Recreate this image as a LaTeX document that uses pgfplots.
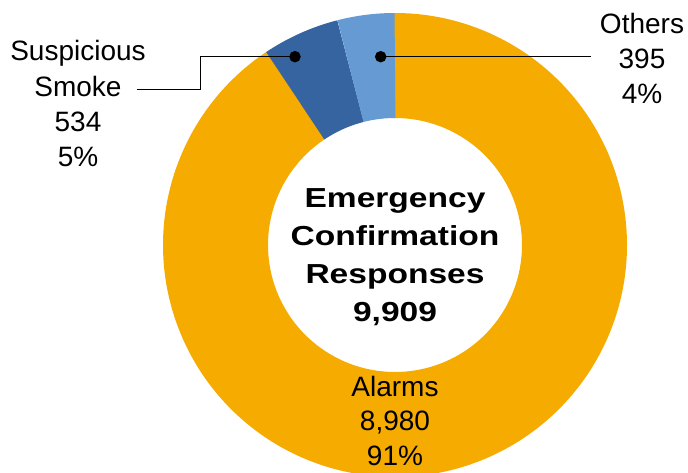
\documentclass[border=0pt]{standalone}
\usepackage{pgfplots}
\pgfplotsset{compat=1.18}
\usepackage{pgfplotstable}
\usepackage{fontspec}
\setmainfont{Liberation Sans}
\definecolor{alarmc}{HTML}{F5AB00}
\definecolor{smokec}{HTML}{3564A0}
\definecolor{otherc}{HTML}{669AD2}

\pgfplotstableread{
label value
Alarms 8980
Smoke 534
Others 395
}\datatable
\pgfplotstablegetelem{0}{value}\of\datatable \let\va\pgfplotsretval
\pgfplotstablegetelem{1}{value}\of\datatable \let\vb\pgfplotsretval
\pgfplotstablegetelem{2}{value}\of\datatable \let\vc\pgfplotsretval
\pgfmathsetmacro\tot{\va+\vb+\vc}
\pgfmathsetmacro\fa{\va/\tot}
\pgfmathsetmacro\fb{\vb/\tot}
\pgfmathsetmacro\fc{\vc/\tot}
\pgfmathsetmacro\aA{90-360*\fa}
\pgfmathsetmacro\aB{\aA-360*\fb}
\pgfmathsetmacro\aC{\aB-360*\fc}
% slight overlap under the blue slices to avoid antialiasing seams
\pgfmathsetmacro\aAlo{\aA-0.4}
\pgfmathsetmacro\aAhi{90.4}

\begin{document}%
\begin{tikzpicture}
\useasboundingbox (0,0) rectangle (688pt,472pt);
\begin{axis}[
  at={(0,0)}, anchor=south west,
  scale only axis, width=688pt, height=472pt,
  xmin=-395, xmax=293, ymin=-227, ymax=245,
  hide axis,
]
% ring segments (outer radius 232, inner radius 127)
\addplot[draw=alarmc, line width=105pt, line cap=butt, domain=\aAlo:\aAhi, samples=240, variable=\t] ({179.5*cos(t)},{179.5*sin(t)});
\addplot[draw=smokec, line width=105pt, line cap=butt, domain=\aB:\aA, samples=30, variable=\t] ({179.5*cos(t)},{179.5*sin(t)});
\addplot[draw=otherc, line width=105pt, line cap=butt, domain=\aC:\aB, samples=30, variable=\t] ({179.5*cos(t)},{179.5*sin(t)});
% leader lines
\addplot[black, line width=1.4pt, mark=*, mark size=5pt, mark indices={1}] coordinates {(-14.3,188.3) (195.7,188.3)};
\addplot[black, line width=1.4pt, mark=*, mark size=5pt, mark indices={1}] coordinates {(-100,188.3) (-194.3,188.3) (-194.3,155.7) (-258,155.7)};
% labels
\tikzset{lbl/.style={anchor=base, inner sep=0pt, font=\fontsize{28}{34}\selectfont}}
\node[lbl] at (axis cs:247,211) {Others};
\node[lbl] at (axis cs:247,176) {395};
\node[lbl] at (axis cs:247,141) {4\%};
\node[lbl] at (axis cs:-317,184) {Suspicious};
\node[lbl] at (axis cs:-317,148) {Smoke};
\node[lbl] at (axis cs:-317,113) {534};
\node[lbl] at (axis cs:-317,78) {5\%};
\node[lbl] at (axis cs:0,-151) {Alarms};
\node[lbl] at (axis cs:0,-185) {8,980};
\node[lbl] at (axis cs:0,-220) {91\%};
\tikzset{cl/.style={anchor=base, inner sep=0pt, font=\fontsize{27.5}{33}\selectfont\bfseries}}
\node[cl] at (axis cs:0,38) {\scalebox{1.22}[1]{Emergency}};
\node[cl] at (axis cs:0,0) {\scalebox{1.22}[1]{Confirmation}};
\node[cl] at (axis cs:0,-38) {\scalebox{1.22}[1]{Responses}};
\node[cl] at (axis cs:0,-76) {\scalebox{1.22}[1]{9,909}};
\end{axis}
\end{tikzpicture}%
\end{document}
